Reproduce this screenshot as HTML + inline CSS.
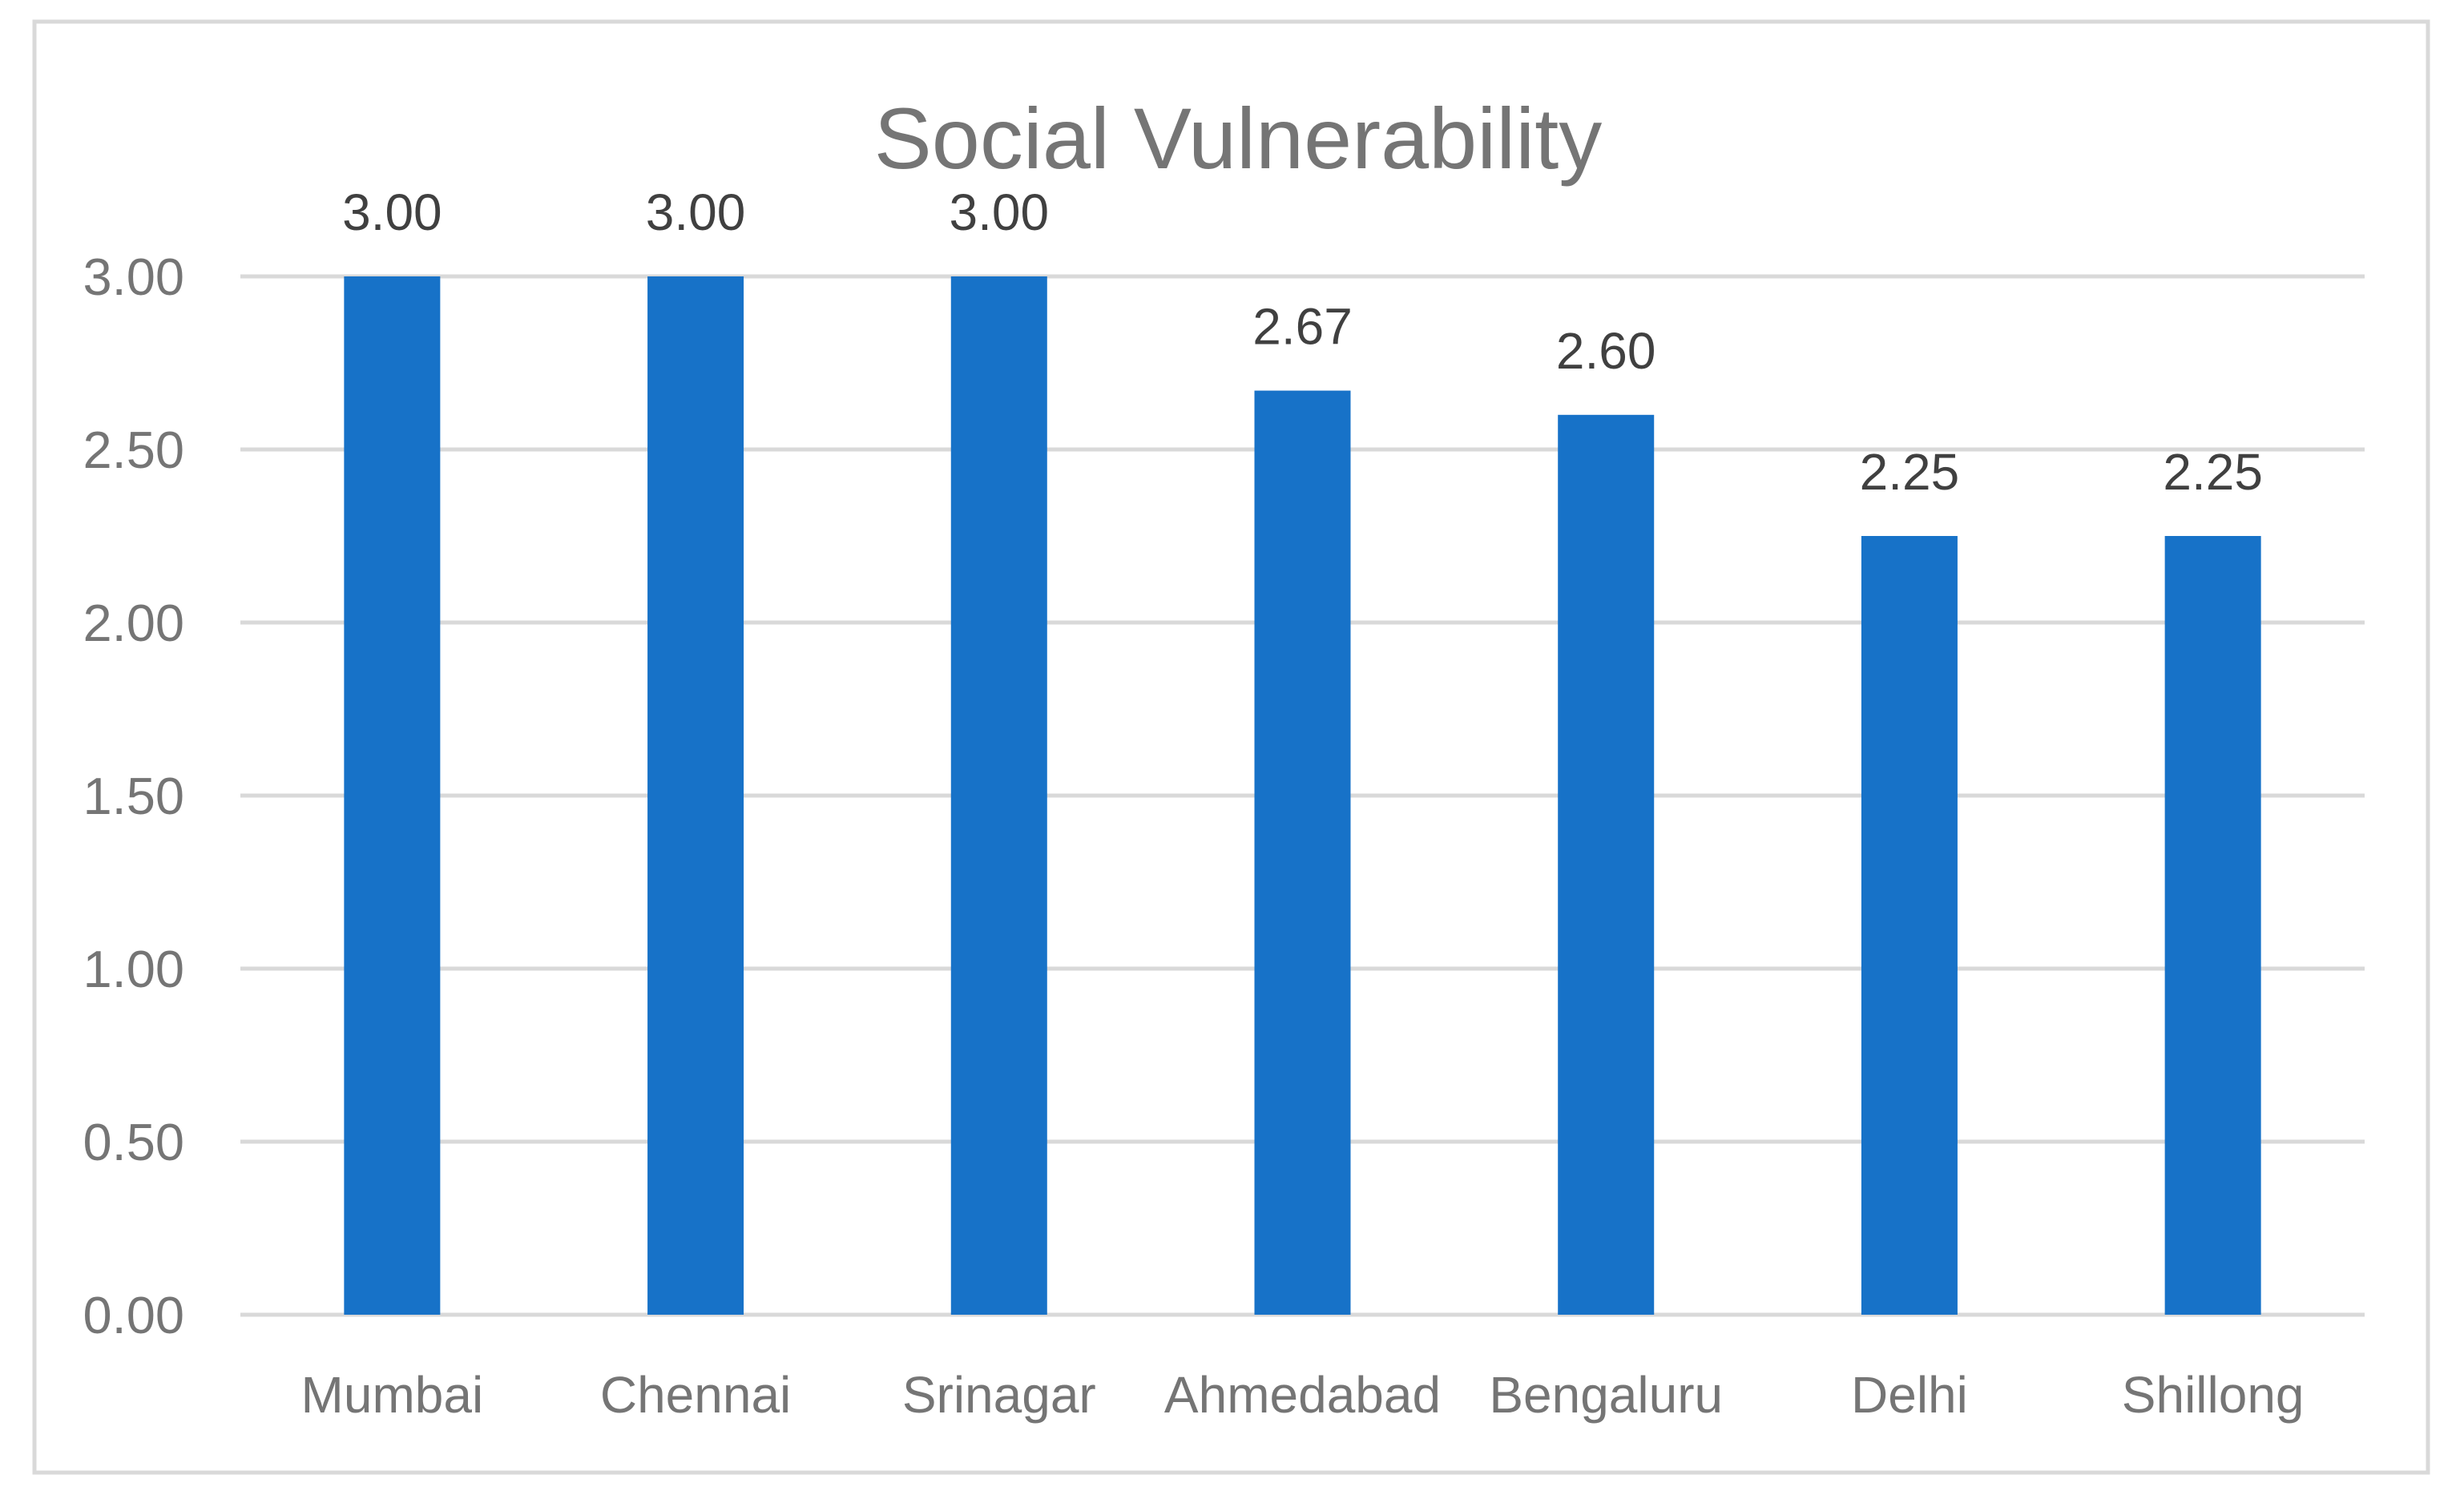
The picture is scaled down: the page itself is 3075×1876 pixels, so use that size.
<!DOCTYPE html>
<html><head><meta charset="utf-8"><style>
html,body{margin:0;padding:0;background:#fff;}
svg{display:block;font-family:"Liberation Sans",sans-serif;}
</style></head><body>
<svg id="chart" width="3075" height="1876" viewBox="0 0 3075 1876">
<rect x="43" y="27" width="2987" height="1811" fill="#fff" stroke="#d9d9d9" stroke-width="5"/>
<text x="1545" y="210" text-anchor="middle" font-size="108" fill="#757575">Social Vulnerability</text>
<g id="grid"></g><g id="bars"></g><g id="labels"></g>
</svg>
<script>
const categories=["Mumbai","Chennai","Srinagar","Ahmedabad","Bengaluru","Delhi","Shillong"];
const values=[3.00,3.00,3.00,2.67,2.60,2.25,2.25];
const ticks=[0,0.5,1,1.5,2,2.5,3];
const ns="http://www.w3.org/2000/svg";
const x0=300,x1=2951,yTop=345,yBot=1641,yMax=3;
const y=v=>yBot-(v/yMax)*(yBot-yTop);
const band=(x1-x0)/categories.length;
const xc=i=>x0+band*(i+0.5);
function mk(t,a,p){const e=document.createElementNS(ns,t);for(const k in a)e.setAttribute(k,a[k]);p.appendChild(e);return e;}
const g=document.getElementById('grid'),b=document.getElementById('bars'),l=document.getElementById('labels');
ticks.forEach(t=>{
 const ln=mk('line',{x1:x0,x2:x1,y1:y(t),y2:y(t),stroke:'#d9d9d9','stroke-width':5},g);
 
 
 const tx=mk('text',{x:230,y:y(t)+23,'text-anchor':'end','font-size':65,fill:'#757575'},g);
 tx.textContent=t.toFixed(2);
 
 
});
const bw=120;
categories.forEach((c,i)=>{
 const r=mk('rect',{x:xc(i)-bw/2,y:y(values[i]),width:bw,height:yBot-y(values[i]),fill:'#1772c8'},b);
 
 
 const v=mk('text',{x:xc(i),y:y(values[i])-58,'text-anchor':'middle','font-size':64,fill:'#404040'},l);
 v.textContent=values[i].toFixed(2);
 
 
 const ct=mk('text',{x:xc(i),y:1763,'text-anchor':'middle','font-size':64,fill:'#757575'},l);
 ct.textContent=c;
 
 
});
</script>
</body></html>
